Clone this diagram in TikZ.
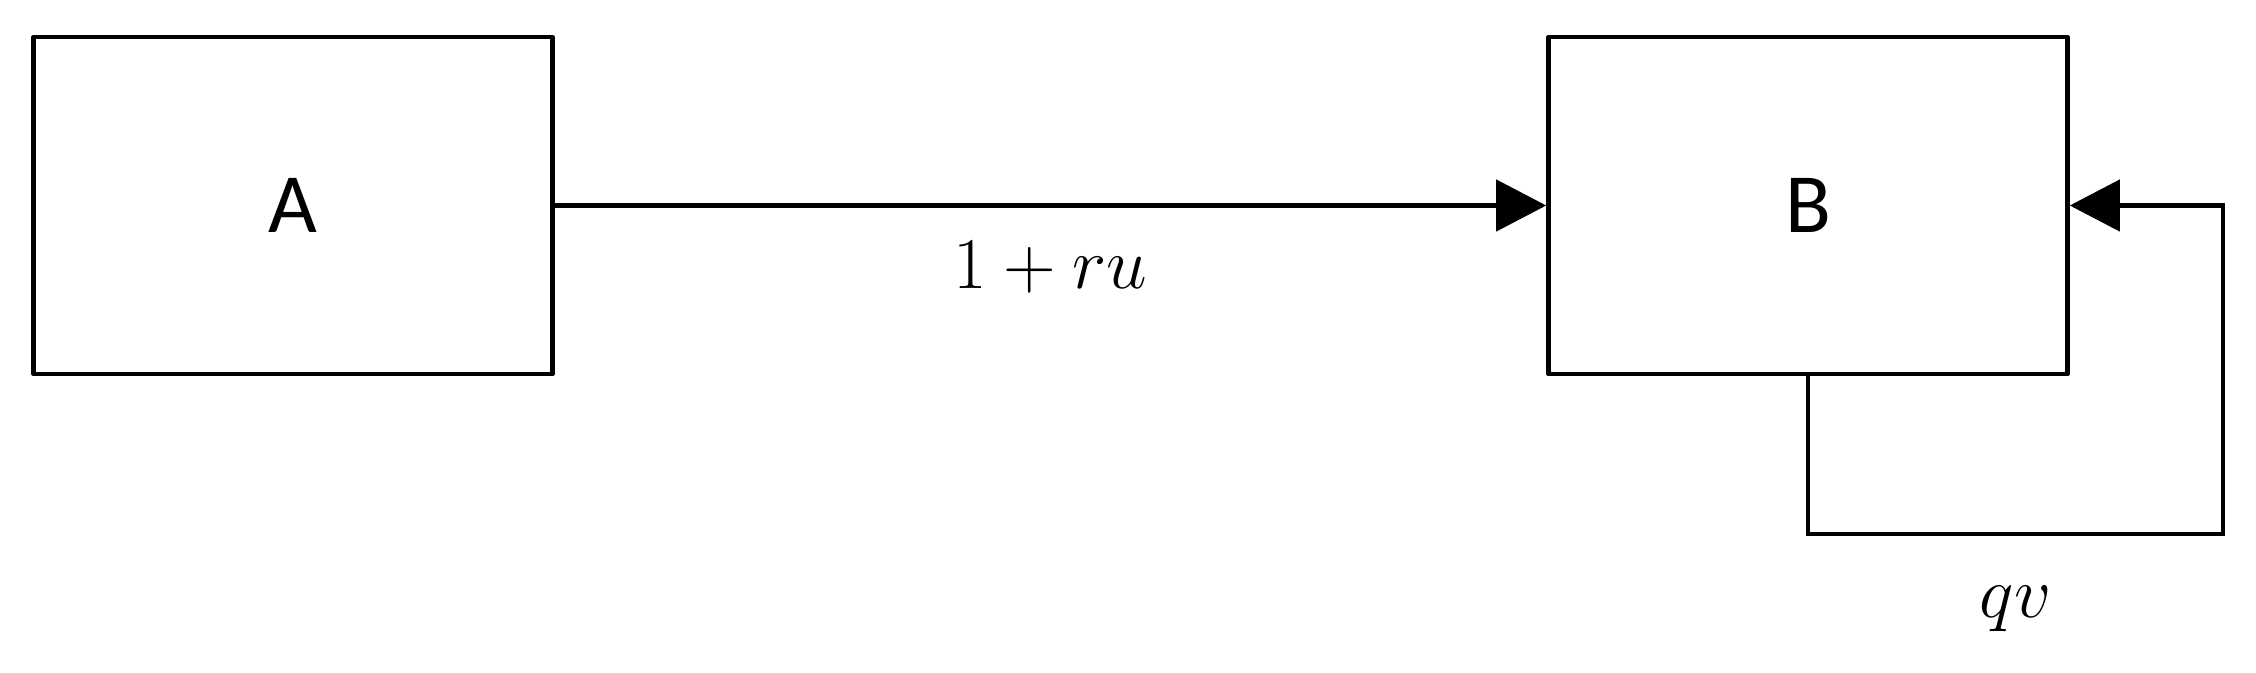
\documentclass[tikz,border=0pt]{standalone}
\usepackage{amssymb, amsmath}
\usepackage{fontspec}
\setmainfont{Carlito}
\usepackage{tikz}
\usetikzlibrary{arrows.meta,positioning}
\tikzset{
  blockbox/.style={draw=black,line width=1.3pt,line join=round,minimum width=5.19cm,minimum height=3.37cm,font=\fontsize{24}{28}\selectfont},
  link/.style={line width=1.3pt,-{Triangle[length=0.5cm,width=0.51cm]}},
  lbl/.style={anchor=base,yshift=-0.83cm,font=\fontsize{21}{25}\selectfont},
}

\begin{document}
\begin{tikzpicture}
      \useasboundingbox (0,0) rectangle (22.56,6.72);
      \node [blockbox] (pA) at (2.93,4.665) {A};
      \node [blockbox] (pB) at (18.08,4.665) {B};
      \coordinate (c1) at (22.23,1.38);
      \draw [link] (pA)--node[lbl]{$1+ru$} (pB);
      \draw [link] (pB.south) |- node[lbl,pos=0.75]{$qv$} (c1) |- (pB.east);
    \end{tikzpicture}
\end{document}
